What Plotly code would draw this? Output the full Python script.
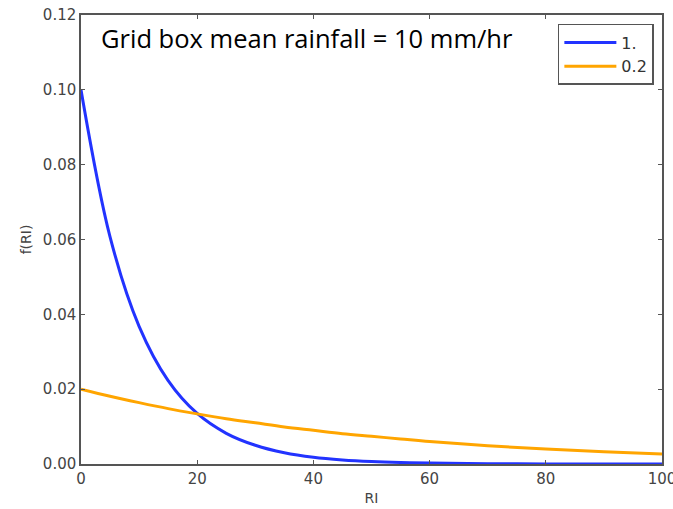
import plotly.graph_objects as go

# Rain-rate values RI (mm/hr) at which the two PDFs are sampled
ri = [0, 5, 10, 15, 20, 25, 30, 35, 40, 45, 50, 55, 60, 70, 80, 90, 100]

# f(RI) for rain fraction 1.
f_full = [0.1000, 0.0607, 0.0368, 0.0223, 0.0135, 0.0082, 0.0050, 0.0030,
          0.0018, 0.0011, 0.00067, 0.00041, 0.00025, 0.00009, 0.00003,
          0.00001, 0.000005]

# f(RI) for rain fraction 0.2
f_frac = [0.0200, 0.0181, 0.0164, 0.0148, 0.0134, 0.0121, 0.0110, 0.0099,
          0.0090, 0.0081, 0.0074, 0.0067, 0.0060, 0.0049, 0.0040, 0.0033,
          0.0027]

series_names = ["1.", "0.2"]
x_ticks = [0, 20, 40, 60, 80, 100]
y_ticks = [0.00, 0.02, 0.04, 0.06, 0.08, 0.10, 0.12]

fig = go.Figure()
fig.add_trace(go.Scatter(x=ri, y=f_full, name=series_names[0], mode="lines",
                         line=dict(color="#2233ff", width=3, shape="spline")))
fig.add_trace(go.Scatter(x=ri, y=f_frac, name=series_names[1], mode="lines",
                         line=dict(color="#ffa500", width=3, shape="spline")))

label_font = dict(family="DejaVu Sans", size=14, color="#444444")
axis_common = dict(
    showgrid=False, zeroline=False, showline=True, linecolor="#555555",
    linewidth=1.5, mirror="ticks", ticks="inside", ticklen=4,
    tickcolor="#555555", automargin=False, ticklabeloverflow="allow",
    tickfont=dict(family="DejaVu Sans", size=15, color="#444444"),
)

fig.update_xaxes(range=[0, 100], tickvals=x_ticks,
                 ticktext=[str(v) for v in x_ticks],
                 title=dict(text="RI", font=label_font, standoff=6),
                 **axis_common)
fig.update_yaxes(range=[0, 0.12], tickvals=y_ticks,
                 ticktext=[f"{v:.2f}" for v in y_ticks],
                 title=dict(text="f(RI)", font=label_font, standoff=8),
                 **axis_common)

fig.add_annotation(text="Grid box mean rainfall = 10 mm/hr", xref="paper", yref="paper",
                   x=0.031, y=0.949, xanchor="left", yanchor="middle", showarrow=False,
                   font=dict(family="Open Sans", size=25.5, color="black"))

fig.update_layout(
    width=673, height=509,
    margin=dict(l=81, r=11, t=15, b=45),
    paper_bgcolor="white", plot_bgcolor="white",
    showlegend=True,
    legend=dict(x=0.986, y=0.98, xanchor="right", yanchor="top",
                bordercolor="#555555", borderwidth=1.5, bgcolor="white",
                font=dict(family="DejaVu Sans", size=16, color="#333333"),
                itemwidth=52, tracegroupgap=3),
)

fig.write_html("out.html")
